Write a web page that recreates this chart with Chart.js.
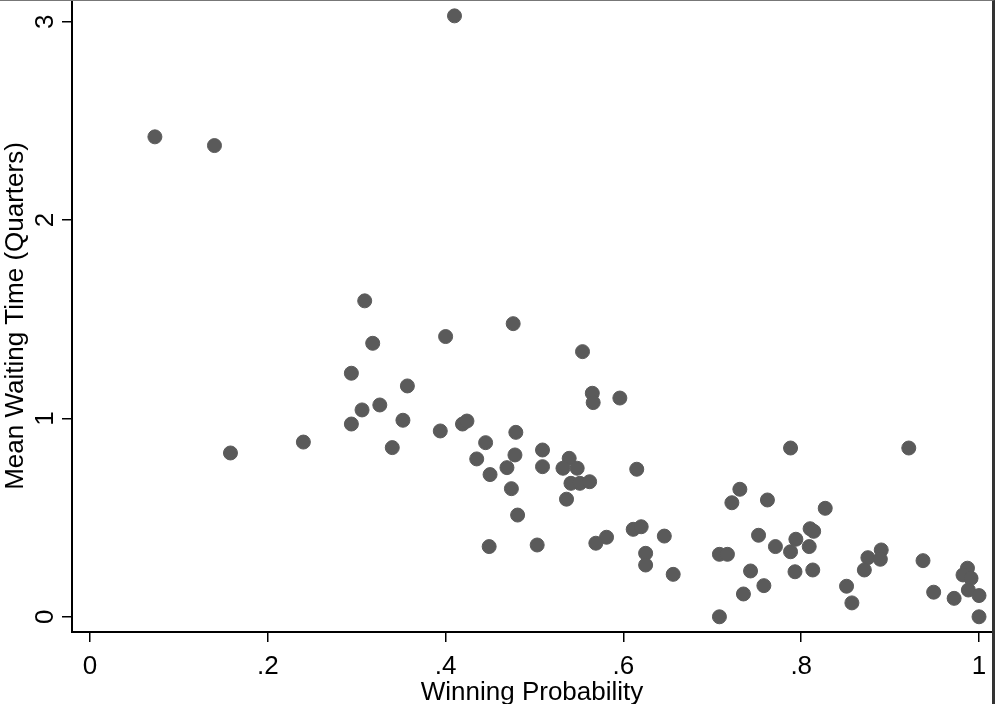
<!DOCTYPE html>
<html>
<head>
<meta charset="utf-8">
<script src="https://cdn.jsdelivr.net/npm/chart.js@4.4.0/dist/chart.umd.min.js"></script>
<style>
    html, body { margin: 0; padding: 0; background: #fff; }
    #wrap { position: relative; width: 995px; height: 704px; overflow: hidden; }
    #frame {
        position: absolute; left: 0; top: 0; width: 992px; height: 704px;
        border-top: 1px solid #777; border-right: 3px solid #333;
        box-sizing: content-box; pointer-events: none;
    }
</style>
</head>
<body>
<div id="wrap">
    <canvas id="waitChart" width="995" height="704"></canvas>
    <div id="frame"></div>
</div>
<script>
// Winning probability (x) and mean waiting time in quarters (y), same order
const winProb = [0.410, 0.073, 0.140, 0.158, 0.240, 0.309, 0.318, 0.400, 0.476, 0.294,
    0.357, 0.306, 0.326, 0.294, 0.352, 0.340, 0.394, 0.419, 0.424, 0.445,
    0.479, 0.435, 0.478, 0.469, 0.450, 0.474, 0.481, 0.449, 0.554, 0.565,
    0.566, 0.596, 0.509, 0.509, 0.539, 0.532, 0.548, 0.541, 0.551, 0.562,
    0.536, 0.615, 0.503, 0.581, 0.569, 0.611, 0.620, 0.646, 0.625, 0.625,
    0.656, 0.788, 0.921, 0.731, 0.722, 0.762, 0.827, 0.752, 0.810, 0.814,
    0.794, 0.771, 0.788, 0.809, 0.708, 0.717, 0.743, 0.793, 0.813, 0.758,
    0.735, 0.851, 0.857, 0.875, 0.890, 0.871, 0.889, 0.937, 0.949, 0.972,
    0.987, 0.982, 0.991, 0.988, 1.000, 0.708, 1.000];
const waitTime = [3.030, 2.420, 2.376, 0.826, 0.881, 1.593, 1.379, 1.413, 1.478, 1.228,
    1.164, 1.043, 1.068, 0.972, 0.991, 0.853, 0.937, 0.972, 0.987, 0.878,
    0.930, 0.796, 0.816, 0.752, 0.717, 0.646, 0.513, 0.354, 1.337, 1.127,
    1.080, 1.103, 0.841, 0.757, 0.799, 0.749, 0.749, 0.673, 0.673, 0.681,
    0.593, 0.744, 0.362, 0.401, 0.371, 0.441, 0.454, 0.407, 0.320, 0.261,
    0.214, 0.851, 0.851, 0.643, 0.575, 0.589, 0.547, 0.411, 0.444, 0.431,
    0.391, 0.354, 0.328, 0.354, 0.315, 0.315, 0.231, 0.227, 0.236, 0.157,
    0.115, 0.154, 0.070, 0.298, 0.337, 0.236, 0.290, 0.283, 0.124, 0.093,
    0.245, 0.211, 0.194, 0.135, 0.107, 0.000, 0.000];

const xTickValues = [0, 0.2, 0.4, 0.6, 0.8, 1];
const xTickLabels = ["0", ".2", ".4", ".6", ".8", "1"];
const yTickValues = [0, 1, 2, 3];
const yTickLabels = ["0", "1", "2", "3"];

const xTitle = "Winning Probability";
const yTitle = "Mean Waiting Time (Quarters)";

document.addEventListener("DOMContentLoaded", function () {
    const fontFamily = "'Liberation Sans', Arial, sans-serif";

    // y tick labels are rotated like the Stata original, so draw them here
    const rotatedYLabels = {
        id: "rotatedYLabels",
        afterDraw(chart) {
            const ctx = chart.ctx;
            const yScale = chart.scales.y;
            ctx.save();
            ctx.fillStyle = "#000";
            ctx.font = "26px " + fontFamily;
            ctx.textAlign = "center";
            ctx.textBaseline = "alphabetic";
            yTickValues.forEach(function (v, i) {
                ctx.save();
                ctx.translate(53, yScale.getPixelForValue(v));
                ctx.rotate(-Math.PI / 2);
                ctx.fillText(yTickLabels[i], 0, 0);
                ctx.restore();
            });
            ctx.restore();
        }
    };

    // no extra room around the plot area, the axes sit at fixed places
    function noPadding(scale) {
        scale.paddingTop = 0;
        scale.paddingBottom = 0;
        scale.paddingLeft = 0;
        scale.paddingRight = 0;
    }

    const points = winProb.map(function (x, i) {
        return { x: x, y: waitTime[i] };
    });

    const ctx = document.getElementById("waitChart").getContext("2d");

    new Chart(ctx, {
        type: "scatter",
        data: {
            datasets: [{
                data: points,
                backgroundColor: "#5a5a5a",
                borderColor: "#5a5a5a",
                borderWidth: 1,
                pointRadius: 7,
                pointHoverRadius: 7
            }]
        },
        options: {
            responsive: false,
            animation: false,
            devicePixelRatio: 1,
            layout: {
                autoPadding: false,
                padding: { top: 0, right: 3, bottom: 0, left: 0 }
            },
            plugins: {
                legend: { display: false },
                tooltip: { enabled: false }
            },
            scales: {
                x: {
                    type: "linear",
                    min: -0.02025,
                    max: 1.0146,
                    afterBuildTicks: function (scale) {
                        scale.ticks = xTickValues.map(v => ({ value: v }));
                    },
                    afterFit: function (scale) {
                        scale.height = 72;
                        noPadding(scale);
                    },
                    border: { display: true, color: "#000", width: 2 },
                    grid: {
                        drawOnChartArea: false,
                        drawTicks: true,
                        tickLength: 10,
                        color: "#000",
                        lineWidth: 1.5
                    },
                    ticks: {
                        color: "#000",
                        padding: 9,
                        maxRotation: 0,
                        autoSkip: false,
                        font: { family: fontFamily, size: 26 },
                        callback: function (value) {
                            const i = xTickValues.indexOf(value);
                            return i >= 0 ? xTickLabels[i] : "";
                        }
                    },
                    title: {
                        display: true,
                        text: xTitle,
                        color: "#000",
                        padding: { top: 0, bottom: 0 },
                        font: { family: fontFamily, size: 26, lineHeight: 0.85 }
                    }
                },
                y: {
                    type: "linear",
                    min: -0.0767,
                    max: 3.110,
                    afterBuildTicks: function (scale) {
                        scale.ticks = yTickValues.map(v => ({ value: v }));
                    },
                    afterFit: function (scale) {
                        scale.width = 72;
                        noPadding(scale);
                    },
                    border: { display: true, color: "#000", width: 2 },
                    grid: {
                        drawOnChartArea: false,
                        drawTicks: true,
                        tickLength: 10,
                        color: "#000",
                        lineWidth: 1.5
                    },
                    ticks: { display: false },
                    title: {
                        display: true,
                        text: yTitle,
                        color: "#000",
                        padding: { top: 1, bottom: 0 },
                        font: { family: fontFamily, size: 26, lineHeight: 1.15 }
                    }
                }
            }
        },
        plugins: [rotatedYLabels]
    });
});
</script>
</body>
</html>
